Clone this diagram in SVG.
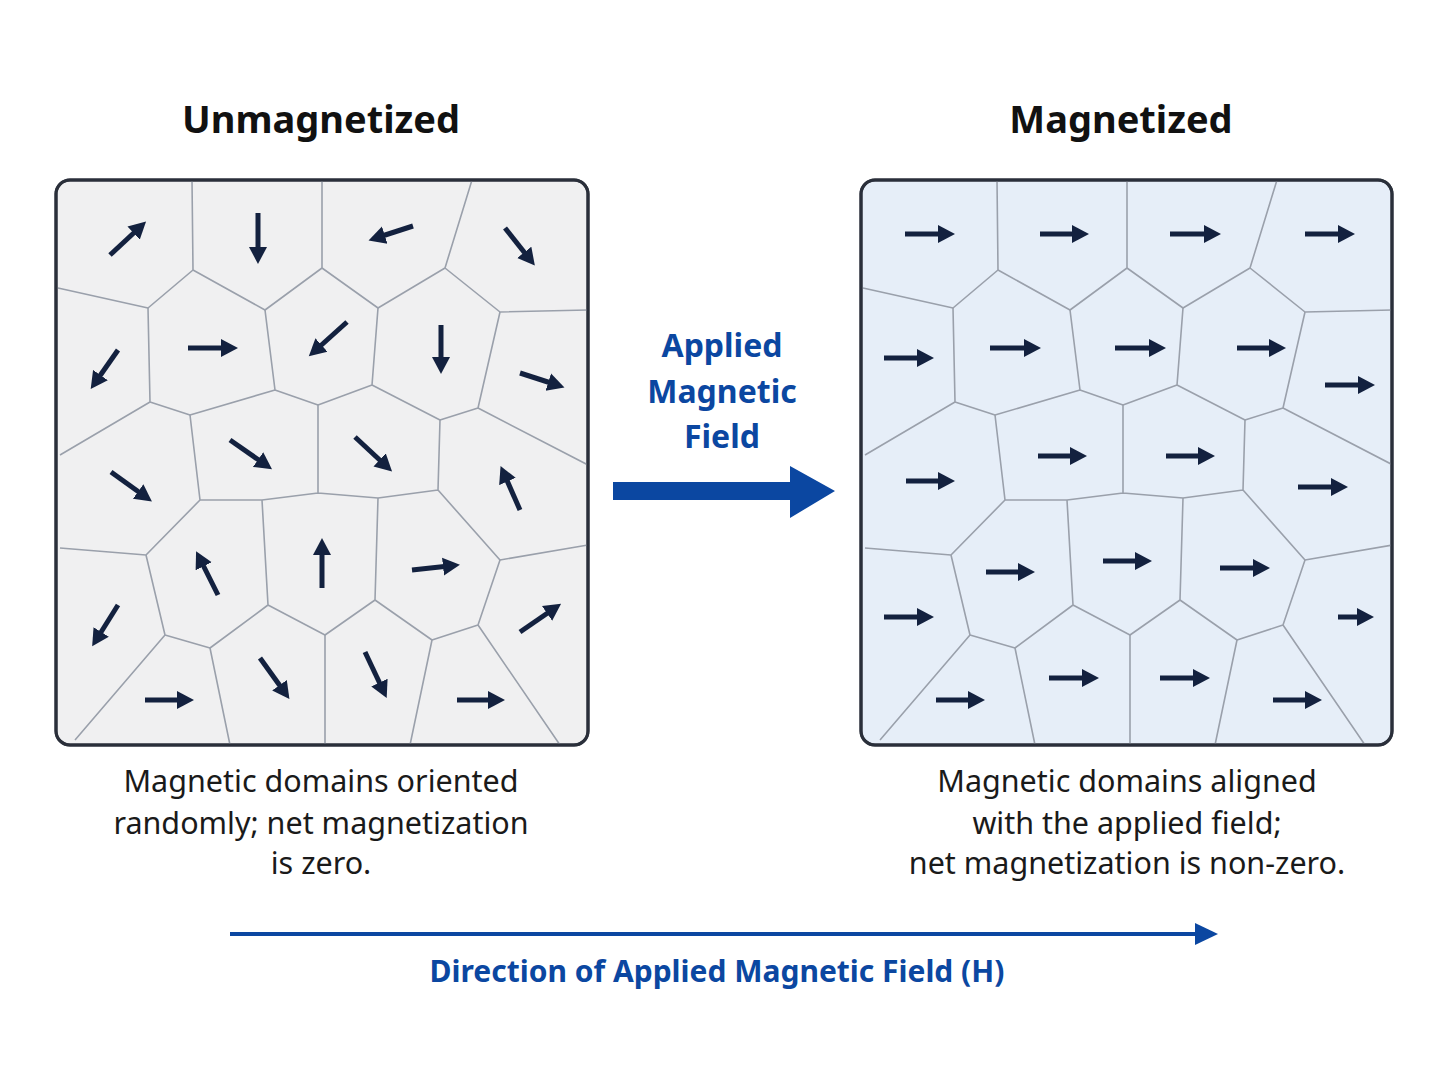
<svg xmlns="http://www.w3.org/2000/svg" width="1448" height="1086" viewBox="0 0 1448 1086">
<style>
.title{font-family:"Noto Sans","Open Sans",sans-serif;font-weight:bold;font-size:38px;fill:#111;text-anchor:middle}
.cap{font-family:"Noto Sans","Open Sans",sans-serif;font-size:30.5px;fill:#1a1a1a;text-anchor:middle}
.blue{font-family:"Noto Sans","Open Sans",sans-serif;font-weight:bold;fill:#0b47a1;text-anchor:middle}
.grain{fill:none;stroke:#9aa0ab;stroke-width:1.6;stroke-linejoin:round}
.ar{stroke:#13213f;stroke-width:5;marker-end:url(#h)}
.box{stroke:#2a2f3a;stroke-width:3}
</style>
<defs>
<marker id="h" markerWidth="4" markerHeight="4" refX="1.2" refY="2" orient="auto" markerUnits="strokeWidth"><path d="M0,0.2 L3.4,2 L0,3.8 z" fill="#13213f"/></marker>
<clipPath id="cl"><rect x="56" y="180" width="532" height="565" rx="14"/></clipPath>
<clipPath id="cr"><rect x="861" y="180" width="531" height="565" rx="14"/></clipPath>
<g id="grains" class="grain">
<path d="M192,180 L193,270 M322,180 L322,268 M472,180 L445,268 M58,288 L148,308 L193,270 L265,310 L322,268 L378,308 L445,268 L500,312 L588,310"/>
<path d="M148,308 L150,402 L190,415 L275,390 L265,310 M275,390 L318,405 L372,385 L378,308 M372,385 L440,420 L478,408 L500,312 M478,408 L588,465"/>
<path d="M60,455 L150,402 M190,415 L200,500 L262,500 L318,493 L318,405 M318,493 L378,498 L438,490 L440,420 M438,490 L500,560 L588,545"/>
<path d="M60,548 L146,555 L200,500 M146,555 L165,635 L210,648 L268,605 L262,500 M268,605 L325,635 L375,600 L378,498 M375,600 L432,640 L478,625 L500,560 M478,625 L560,745"/>
<path d="M165,635 L75,740 M210,648 L230,745 M325,635 L325,745 M432,640 L410,745"/>
</g>
</defs>
<rect width="1448" height="1086" fill="#fff"/>
<text class="title" x="321" y="133">Unmagnetized</text>
<text class="title" x="1121" y="133">Magnetized</text>
<g id="left-panel">
<rect class="box" x="56" y="180" width="532" height="565" rx="14" fill="#f0f0f1"/>
<g clip-path="url(#cl)"><use href="#grains"/></g>
<rect class="box" x="56" y="180" width="532" height="565" rx="14" fill="none"/>
</g>
<g id="right-panel">
<rect class="box" x="861" y="180" width="531" height="565" rx="14" fill="#e6eef8"/>
<g clip-path="url(#cr)"><use href="#grains" transform="translate(805,0)"/></g>
<rect class="box" x="861" y="180" width="531" height="565" rx="14" fill="none"/>
</g>
<g id="left-arrows" class="ar">
<line x1="110" y1="255" x2="138" y2="229"/><line x1="258" y1="213" x2="258" y2="253"/><line x1="413" y1="226" x2="379" y2="237"/><line x1="505" y1="228" x2="528" y2="257"/>
<line x1="118" y1="350" x2="97" y2="380"/><line x1="188" y1="348" x2="227" y2="348"/><line x1="347" y1="322" x2="317" y2="349"/><line x1="441" y1="325" x2="441" y2="363"/><line x1="520" y1="373" x2="554" y2="384"/>
<line x1="111" y1="472" x2="143" y2="495"/><line x1="230" y1="440" x2="263" y2="463"/><line x1="355" y1="437" x2="384" y2="464"/><line x1="520" y1="510" x2="505" y2="476"/>
<line x1="118" y1="605" x2="98" y2="637"/><line x1="218" y1="595" x2="201" y2="561"/><line x1="322" y1="588" x2="322" y2="549"/><line x1="412" y1="570" x2="449" y2="566"/><line x1="520" y1="632" x2="552" y2="610"/>
<line x1="145" y1="700" x2="183" y2="700"/><line x1="260" y1="658" x2="283" y2="690"/><line x1="365" y1="652" x2="382" y2="688"/><line x1="457" y1="700" x2="494" y2="700"/>
</g>
<g id="right-arrows" class="ar">
<line x1="905" y1="234" x2="944" y2="234"/><line x1="1040" y1="234" x2="1078" y2="234"/><line x1="1170" y1="234" x2="1210" y2="234"/><line x1="1305" y1="234" x2="1344" y2="234"/>
<line x1="884" y1="358" x2="923" y2="358"/><line x1="990" y1="348" x2="1030" y2="348"/><line x1="1115" y1="348" x2="1155" y2="348"/><line x1="1237" y1="348" x2="1275" y2="348"/><line x1="1325" y1="385" x2="1364" y2="385"/>
<line x1="906" y1="481" x2="944" y2="481"/><line x1="1038" y1="456" x2="1076" y2="456"/><line x1="1166" y1="456" x2="1204" y2="456"/><line x1="1298" y1="487" x2="1337" y2="487"/>
<line x1="884" y1="617" x2="923" y2="617"/><line x1="986" y1="572" x2="1024" y2="572"/><line x1="1103" y1="561" x2="1141" y2="561"/><line x1="1220" y1="568" x2="1259" y2="568"/><line x1="1338" y1="617" x2="1363" y2="617"/>
<line x1="936" y1="700" x2="974" y2="700"/><line x1="1049" y1="678" x2="1088" y2="678"/><line x1="1160" y1="678" x2="1199" y2="678"/><line x1="1273" y1="700" x2="1311" y2="700"/>
</g>
<g id="field-arrow">
<text class="blue" font-size="32" x="722" y="357">Applied</text>
<text class="blue" font-size="32" x="722" y="403">Magnetic</text>
<text class="blue" font-size="32" x="722" y="448">Field</text>
<path d="M613,482 L790,482 L790,466 L835,491 L790,518 L790,500 L613,500 z" fill="#0b47a1"/>
</g>
<text class="cap" x="321" y="792">Magnetic domains oriented</text>
<text class="cap" x="321" y="834">randomly; net magnetization</text>
<text class="cap" x="321" y="874">is zero.</text>
<text class="cap" x="1127" y="792">Magnetic domains aligned</text>
<text class="cap" x="1127" y="834">with the applied field;</text>
<text class="cap" x="1127" y="874">net magnetization is non-zero.</text>
<g id="direction">
<line x1="230" y1="934" x2="1198" y2="934" stroke="#0b47a1" stroke-width="4"/>
<path d="M1195,923 L1218,934 L1195,945 z" fill="#0b47a1"/>
<text class="blue" font-size="30" x="717" y="982">Direction of Applied Magnetic Field (H)</text>
</g>
</svg>
